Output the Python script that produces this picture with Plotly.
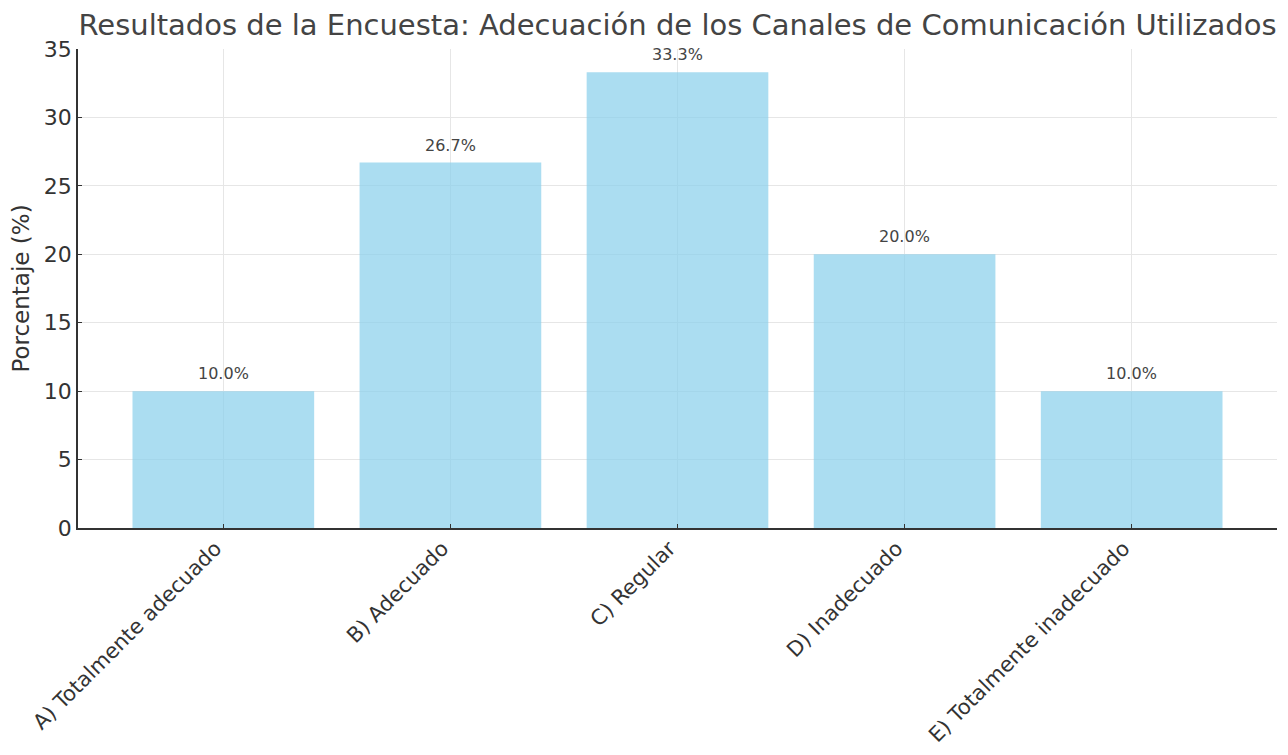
import plotly.graph_objects as go

categorias = [
    "A) Totalmente adecuado",
    "B) Adecuado",
    "C) Regular",
    "D) Inadecuado",
    "E) Totalmente inadecuado",
]
porcentajes = [10.0, 26.7, 33.3, 20.0, 10.0]
y_ticks = [0, 5, 10, 15, 20, 25, 30, 35]

FONT = "DejaVu Sans"
x_pos = list(range(len(categorias)))

fig = go.Figure()
fig.add_trace(go.Bar(
    x=x_pos,
    y=porcentajes,
    width=0.8,
    marker=dict(color="rgba(135,206,235,0.7)", line=dict(width=0)),
    hoverinfo="skip",
))

# value labels above each bar
for xi, v in zip(x_pos, porcentajes):
    fig.add_annotation(
        x=xi, y=v, text=f"{v:.1f}%", showarrow=False,
        yanchor="bottom", yshift=6,
        font=dict(family=FONT, size=16, color="#444444"),
    )

fig.update_layout(
    width=1288, height=755,
    margin=dict(l=78, r=11, t=49, b=227),
    paper_bgcolor="white", plot_bgcolor="white",
    showlegend=False,
    title=dict(
        text="Resultados de la Encuesta: Adecuación de los Canales de Comunicación Utilizados",
        x=(78 + 1277) / 2 / 1288, xanchor="center",
        y=1 - 25 / 755, yanchor="middle",
        font=dict(family=FONT, size=29, color="#444444"),
    ),
    font=dict(family=FONT, color="#333333"),
)

fig.update_xaxes(
    range=[-0.64, 4.64],
    tickmode="array", tickvals=x_pos, ticktext=categorias,
    tickangle=-45,
    tickfont=dict(family=FONT, size=21, color="#333333"),
    ticklabelshift=-8, ticklabelstandoff=-2,
    showgrid=True, gridcolor="#e6e6e6", gridwidth=1,
    showline=True, linecolor="#333333", linewidth=1.5,
    ticks="inside", ticklen=4, tickcolor="#333333",
    zeroline=False, automargin=False,
)
fig.update_yaxes(
    range=[0, 35],
    tickmode="array", tickvals=y_ticks,
    tickfont=dict(family=FONT, size=22, color="#333333"),
    title=dict(text="Porcentaje (%)", font=dict(family=FONT, size=23, color="#333333"), standoff=8),
    showgrid=True, gridcolor="#e6e6e6", gridwidth=1,
    showline=True, linecolor="#333333", linewidth=1.5,
    ticks="inside", ticklen=4, tickcolor="#333333",
    zeroline=False, automargin=False,
)

fig.write_html("out.html")
